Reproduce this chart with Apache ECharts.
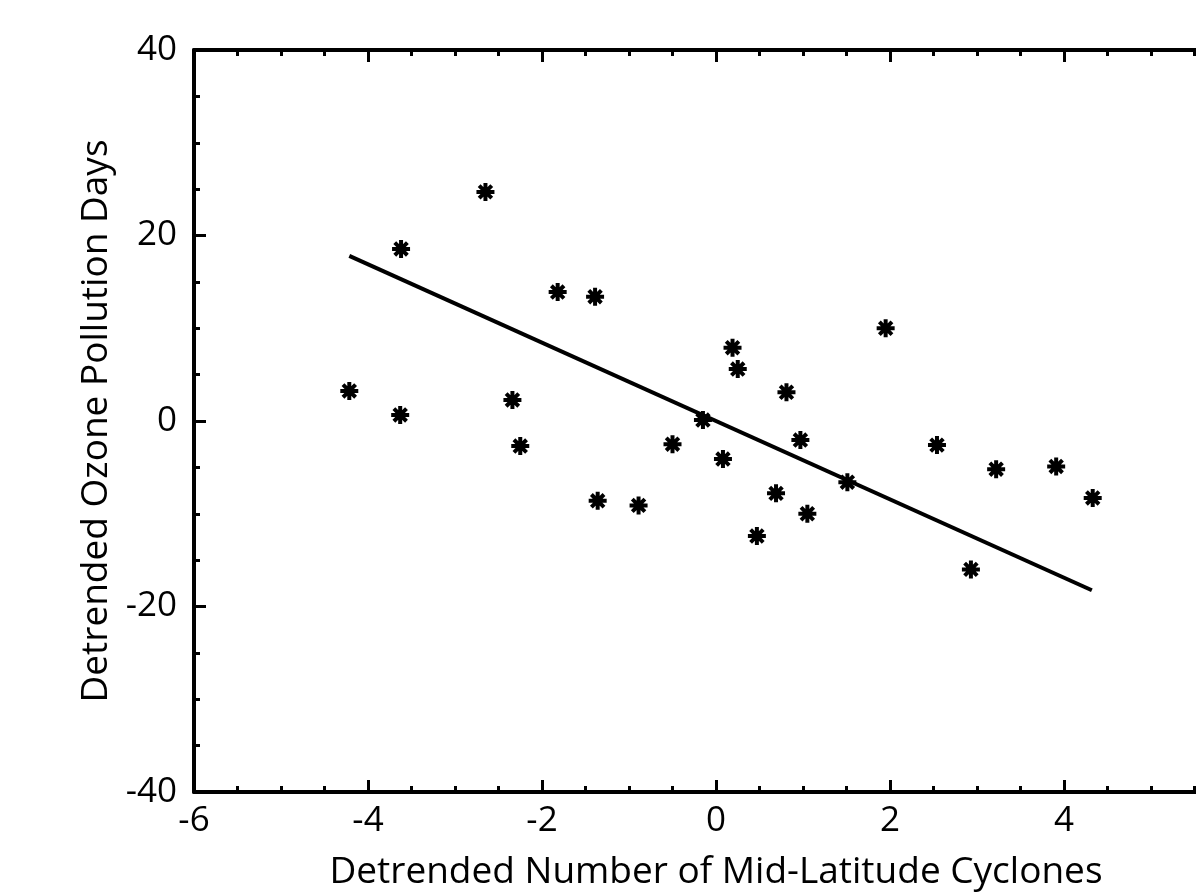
<!DOCTYPE html>
<html>
<head>
<meta charset="utf-8">
<script src="https://cdn.jsdelivr.net/npm/echarts@6/dist/echarts.min.js"></script>
<style>
  html, body { margin: 0; padding: 0; background: #fff; overflow: hidden; }
  #chart { width: 1196px; height: 892px; }
</style>
</head>
<body>
<div id="chart"></div>
<script>
// cyclone anomaly vs ozone day anomaly
var cyclones = [-4.215, -3.62, -3.63, -2.65, -2.34, -2.25, -1.82, -1.39, -1.36, -0.89,
  -0.50, -0.15, 0.08, 0.19, 0.25, 0.47, 0.69, 0.81, 0.97, 1.05,
  1.51, 1.95, 2.54, 2.93, 3.22, 3.91, 4.33];
var ozoneDays = [3.24, 18.55, 0.65, 24.7, 2.27, -2.7, 13.9, 13.4, -8.6, -9.1,
  -2.5, 0.1, -4.1, 7.9, 5.6, -12.4, -7.8, 3.1, -2.05, -10.0,
  -6.6, 10.0, -2.6, -16.0, -5.2, -4.9, -8.3];

// regression line end points
var fitX = [-4.215, 4.32];
var fitY = [17.8, -18.25];

var xTicks = [-6, -4, -2, 0, 2, 4, 6];
var yTicks = [-40, -20, 0, 20, 40];

var chartDom = document.getElementById("chart");
var myChart = echarts.init(chartDom);

var font = "'Open Sans', 'Noto Sans', sans-serif";

var points = cyclones.map(function (x, i) {
  return [x, ozoneDays[i]];
});
var fitLine = fitX.map(function (x, i) {
  return [x, fitY[i]];
});

var star = "path://M0,5 L10,5 M5,0 L5,10 M1.5,1.5 L8.5,8.5 M8.5,1.5 L1.5,8.5";

function axisBase(show) {
  return {
    axisLine: { show: true, onZero: false, lineStyle: { color: "#000", width: 4 } },
    axisTick: { show: true, inside: true, length: 12, lineStyle: { color: "#000", width: 3 } },
    minorTick: { show: true, splitNumber: 4, length: 6, lineStyle: { color: "#000", width: 3 } },
    splitLine: { show: false },
    axisLabel: {
      show: show,
      color: "#000",
      fontFamily: font,
      fontSize: 35
    }
  };
}

var xBottom = Object.assign(axisBase(true), {
  type: "value",
  min: xTicks[0],
  max: xTicks[xTicks.length - 1],
  interval: 2,
  position: "bottom",
  name: "Detrended Number of Mid-Latitude Cyclones",
  nameLocation: "middle",
  nameGap: 62,
  nameTextStyle: { color: "#000", fontFamily: font, fontSize: 37 }
});
xBottom.axisLabel.margin = 12;

var xTop = Object.assign(axisBase(false), {
  type: "value",
  min: xTicks[0],
  max: xTicks[xTicks.length - 1],
  interval: 2,
  position: "top"
});

var yLeft = Object.assign(axisBase(true), {
  type: "value",
  min: yTicks[0],
  max: yTicks[yTicks.length - 1],
  interval: 20,
  position: "left",
  name: "Detrended Ozone Pollution Days",
  nameLocation: "middle",
  nameGap: 76,
  nameTextStyle: { color: "#000", fontFamily: font, fontSize: 37 }
});
yLeft.axisLabel.margin = 17;

var yRight = Object.assign(axisBase(false), {
  type: "value",
  min: yTicks[0],
  max: yTicks[yTicks.length - 1],
  interval: 20,
  position: "right"
});

var option = {
  backgroundColor: "#fff",
  animation: false,
  grid: {
    left: 194,
    top: 50,
    width: 1044,
    height: 742,
    outerBoundsMode: "none"
  },
  xAxis: [xBottom, xTop],
  yAxis: [yLeft, yRight],
  series: [
    {
      name: "Fit",
      type: "line",
      data: fitLine,
      showSymbol: false,
      symbol: "none",
      lineStyle: { color: "#000", width: 4 },
      z: 2
    },
    {
      name: "Years",
      type: "scatter",
      data: points,
      symbol: star,
      symbolSize: 18,
      itemStyle: {
        color: "rgba(0,0,0,0)",
        borderColor: "#000",
        borderWidth: 4,
        borderCap: "butt",
        opacity: 1
      },
      z: 3
    }
  ]
};

option && myChart.setOption(option);
</script>
</body>
</html>
